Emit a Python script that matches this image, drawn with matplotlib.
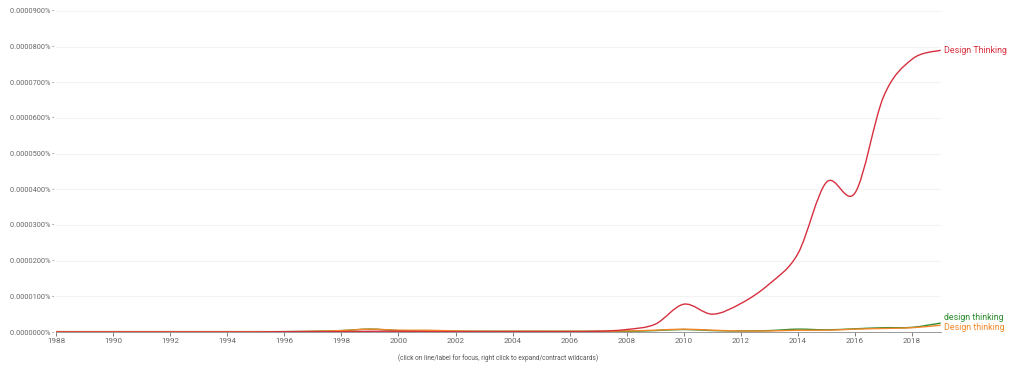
import numpy as np
import matplotlib
matplotlib.use("Agg")
import matplotlib.pyplot as plt
from matplotlib.path import Path
from matplotlib.patches import PathPatch
from matplotlib.ticker import FuncFormatter, MultipleLocator

plt.rcParams['font.family'] = ['Roboto', 'DejaVu Sans']

########  data (percent of ngrams)  ########
years = list(range(1988, 2020))

design_thinking_cap = [0.0000000, 0.0000000, 0.0000000, 0.0000000, 0.0000000, 0.0000000,
                       0.0000000, 0.0000000, 0.0000001, 0.0000001, 0.0000001, 0.0000002,
                       0.0000002, 0.0000001, 0.0000001, 0.0000001, 0.0000001, 0.0000001,
                       0.0000001, 0.0000002, 0.0000007, 0.0000022, 0.0000078, 0.0000050,
                       0.0000080, 0.0000135, 0.0000220, 0.0000420, 0.0000390, 0.0000660,
                       0.0000765, 0.0000790]

design_thinking_low = [0.0000001, 0.0000001, 0.0000001, 0.0000001, 0.0000001, 0.0000001,
                       0.0000001, 0.0000001, 0.0000001, 0.0000002, 0.0000004, 0.0000008,
                       0.0000004, 0.0000003, 0.0000002, 0.0000002, 0.0000002, 0.0000002,
                       0.0000002, 0.0000002, 0.0000002, 0.0000004, 0.0000007, 0.0000004,
                       0.0000003, 0.0000004, 0.0000008, 0.0000006, 0.0000009, 0.0000012,
                       0.0000013, 0.0000025]

design_thinking_mix = [0.0000001, 0.0000001, 0.0000001, 0.0000001, 0.0000001, 0.0000001,
                       0.0000001, 0.0000001, 0.0000001, 0.0000002, 0.0000004, 0.0000008,
                       0.0000005, 0.0000005, 0.0000003, 0.0000002, 0.0000002, 0.0000002,
                       0.0000002, 0.0000002, 0.0000003, 0.0000005, 0.0000008, 0.0000005,
                       0.0000003, 0.0000003, 0.0000005, 0.0000005, 0.0000008, 0.0000010,
                       0.0000012, 0.0000019]

series = [("Design Thinking", design_thinking_cap, "#d6303f"),
          ("design thinking", design_thinking_low, "#2b8a2b"),
          ("Design thinking", design_thinking_mix, "#f3882a")]


def smooth_path(x, y):
    # catmull-rom through the points, drawn as cubic bezier segments
    x = np.asarray(x, float)
    y = np.asarray(y, float)
    verts = [(x[0], y[0])]
    codes = [Path.MOVETO]
    n = len(x)
    for i in range(n - 1):
        x0, y0 = (x[i - 1], y[i - 1]) if i > 0 else (x[i], y[i])
        x3, y3 = (x[i + 2], y[i + 2]) if i + 2 < n else (x[i + 1], y[i + 1])
        x1, y1 = x[i], y[i]
        x2, y2 = x[i + 1], y[i + 1]
        c1 = (x1 + (x2 - x0) / 6.0, y1 + (y2 - y0) / 6.0)
        c2 = (x2 - (x3 - x1) / 6.0, y2 - (y3 - y1) / 6.0)
        verts += [c1, c2, (x2, y2)]
        codes += [Path.CURVE4] * 3
    return Path(verts, codes)


fig = plt.figure(figsize=(10.24, 3.70), dpi=100)
ax = fig.add_axes([0.0547, 0.1027, 0.9186 - 0.0547, 0.9703 - 0.1027])

# green first, orange over it, red on top
order = [series[1], series[2], series[0]]
for z, (name, vals, col) in enumerate(order):
    ax.add_patch(PathPatch(smooth_path(years, vals), facecolor='none',
                           edgecolor=col, linewidth=1.0, zorder=3 + z))

ax.set_xlim(1988, 2019)
ax.set_ylim(0, 0.00009)
ax.xaxis.set_major_locator(MultipleLocator(2))
ax.yaxis.set_major_locator(MultipleLocator(0.00001))
ax.yaxis.set_major_formatter(FuncFormatter(lambda v, p: "%.7f%% -" % v))

for s in ['top', 'right', 'left']:
    ax.spines[s].set_visible(False)
ax.spines['bottom'].set_color('#999999')
ax.spines['bottom'].set_linewidth(0.7)
ax.tick_params(axis='y', labelsize=5.3, colors='#666666', length=0, pad=1)
ax.tick_params(axis='x', labelsize=5.8, colors='#666666', length=3, width=0.6,
               pad=1.5)
ax.grid(axis='y', color='#f3f3f3', linewidth=0.8)
ax.set_axisbelow(True)

ax.set_xlabel("(click on line/label for focus, right click to expand/contract wildcards)",
              fontsize=4.7, color='#555555', labelpad=7)

# series labels at the right end
label_y = [0.0000790, 0.0000040, 0.0000012]
for (name, vals, col), ly in zip(series, label_y):
    ax.text(2019.1, ly, name, color=col, fontsize=6.4, va='center', ha='left',
            clip_on=False)

fig.savefig("out.png", dpi=100)
